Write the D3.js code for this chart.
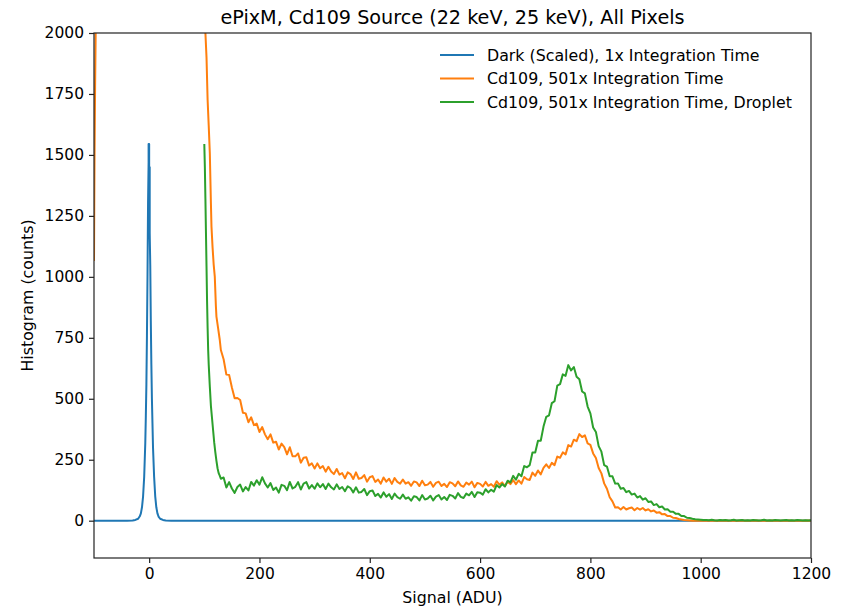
<!DOCTYPE html>
<html>
<head>
<meta charset="utf-8">
<script src="https://cdn.jsdelivr.net/npm/d3@7"></script>
<style>
  body { margin: 0; background: #fff; }
  text { font-family: "DejaVu Sans", sans-serif; fill: #000; }
</style>
</head>
<body>
<svg id="chart" width="848" height="607"></svg>
<script>
// Histogram data
const seriesNames = [
    "Dark (Scaled), 1x Integration Time",
    "Cd109, 501x Integration Time",
    "Cd109, 501x Integration Time, Droplet"
];
const seriesColors = ["#1f77b4", "#ff7f0e", "#2ca02c"];

// dark peak, [signal, counts]
const darkPoints = [
    [-100, 0], [-40, 0], [-30, 1], [-25, 3], [-20, 8], [-17, 18], [-15, 30], [-13, 55],
    [-11, 100], [-9, 180], [-7, 320], [-6, 430], [-5, 560], [-4, 760], [-3, 1000],
    [-2, 1300], [-1, 1470], [-1, 1545], [0, 1545], [0, 1440], [1, 1450], [1, 1180],
    [2, 1050], [3, 820], [4, 640], [5, 500], [6, 400], [7, 300], [9, 180], [11, 100],
    [13, 55], [15, 30], [17, 17], [20, 8], [25, 3], [30, 1], [40, 0], [1200, 0]
];

// steep parts at the start of the Cd109 curves, [signal, counts]
const cdHead = [
    [-100, 1065], [-99.5, 1300], [-99, 1500], [-98, 1780], [-97, 1990], [-96, 2300],
    [-94, 2800], [96, 2800], [100, 2300], [102, 2000], [104, 1900], [106, 1725],
    [108, 1620], [110, 1507], [112, 1300], [113, 1206], [115, 1120], [117, 1050],
    [119, 1001], [121, 880], [122, 837], [125, 790], [128, 742], [130, 700]
];
const dropletHead = [
    [100, 1545], [101, 1450], [102, 1320], [103, 1180], [104, 1042], [105, 900],
    [106, 790], [107, 700], [108, 640], [110, 550], [112, 470], [114, 420], [116, 370],
    [118, 320], [120, 280], [122, 245], [124, 215], [126, 195], [128, 185], [130, 172]
];

// regular bins after the head: first bin and bin width in ADU
const binStart = 135;
const binStep = 5;

const cdCounts = [
    662, 599, 598, 546, 502, 503, 495, 443, 440, 404, 424, 392, 398, 364, 384, 354,
    334, 354, 320, 324, 292, 316, 302, 272, 301, 264, 264, 276, 238, 258, 260, 226,
    235, 214, 235, 215, 224, 201, 221, 202, 191, 212, 189, 195, 174, 198, 191, 171,
    198, 172, 175, 187, 160, 178, 183, 159, 169, 152, 177, 160, 172, 151, 175, 159,
    152, 169, 152, 158, 143, 161, 157, 142, 164, 145, 148, 159, 139, 155, 160, 142,
    151, 138, 158, 153, 141, 161, 145, 139, 156, 148, 160, 137, 155, 151, 140, 159,
    143, 150, 139, 162, 148, 157, 142, 160, 150, 167, 150, 165, 152, 179, 170, 167,
    197, 184, 206, 190, 217, 231, 216, 237, 228, 263, 258, 280, 272, 310, 304, 332,
    326, 355, 343, 350, 317, 311, 276, 257, 216, 194, 153, 131, 96, 79, 54, 55,
    46, 56, 46, 51, 54, 43, 52, 45, 52, 42, 47, 38, 42, 33, 35, 26,
    27, 19, 19, 12, 11, 7, 5, 3, 2, 1, 0, 0, 1, 0, 0, 0,
    0, 1, 0, 0, 0, 0, 1, 0, 0, 0, 0, 0, 1, 0, 0, 0,
    0, 1, 0, 0, 0, 0, 0, 1, 0, 0, 0, 0, 0, 1, 0, 0,
    0, 0, 0, 0, 1, 0
];

const dropletCounts = [
    177, 136, 158, 132, 114, 138, 148, 120, 138, 124, 159, 144, 166, 148, 178, 153,
    136, 154, 126, 136, 115, 147, 143, 125, 159, 132, 139, 158, 128, 152, 158, 132,
    146, 131, 153, 137, 150, 130, 152, 137, 128, 149, 130, 138, 121, 141, 134, 116,
    137, 115, 118, 130, 105, 121, 124, 101, 110, 95, 116, 98, 109, 89, 111, 97,
    90, 107, 90, 96, 82, 100, 97, 83, 105, 87, 91, 102, 83, 99, 105, 87,
    97, 85, 106, 102, 91, 113, 98, 93, 111, 104, 118, 97, 117, 115, 107, 129,
    116, 127, 119, 146, 136, 150, 140, 164, 157, 184, 168, 192, 182, 224, 219, 228,
    280, 280, 328, 328, 386, 426, 432, 482, 490, 554, 560, 600, 594, 638, 616, 630,
    590, 580, 530, 522, 468, 440, 382, 364, 306, 283, 228, 222, 182, 182, 152, 153,
    131, 134, 117, 122, 107, 111, 95, 101, 86, 92, 77, 79, 64, 68, 55, 58,
    46, 47, 37, 37, 28, 28, 19, 19, 12, 11, 8, 6, 5, 4, 3, 3,
    2, 4, 2, 1, 3, 2, 3, 1, 2, 4, 1, 2, 3, 1, 2, 1,
    3, 2, 1, 2, 4, 1, 2, 1, 3, 2, 1, 2, 3, 1, 2, 1,
    3, 2, 1, 2, 1, 2
];

const xTicks = [0, 200, 400, 600, 800, 1000, 1200];
const yTicks = [0, 250, 500, 750, 1000, 1250, 1500, 1750, 2000];

function withBins(head, counts) {
    return head.concat(counts.map((c, i) => [binStart + i * binStep, c]));
}

const width = 848, height = 607;
const margin = {top: 33, right: 37, bottom: 49, left: 94};

let svg = d3.select("#chart");

let x = d3.scaleLinear().domain([-100, 1200]).range([margin.left, width - margin.right]);
let y = d3.scaleLinear().domain([-153, 2000]).range([height - margin.bottom, margin.top]);

svg.append("defs").append("clipPath")
    .attr("id", "plot-clip")
    .append("rect")
    .attr("x", margin.left)
    .attr("y", margin.top)
    .attr("width", width - margin.left - margin.right)
    .attr("height", height - margin.top - margin.bottom);

let line = d3.line().x(d => x(d[0])).y(d => y(d[1]));

let allSeries = [darkPoints, withBins(cdHead, cdCounts), withBins(dropletHead, dropletCounts)];

svg.append("g")
    .attr("clip-path", "url(#plot-clip)")
    .selectAll("path")
    .data(allSeries)
    .enter().append("path")
    .attr("fill", "none")
    .attr("stroke", (d, i) => seriesColors[i])
    .attr("stroke-width", 2)
    .attr("stroke-linejoin", "round")
    .attr("d", line);

// axes
let xAxis = svg.append("g")
    .attr("transform", `translate(0,${height - margin.bottom})`)
    .call(d3.axisBottom(x).tickValues(xTicks).tickSize(5).tickPadding(5).tickFormat(d3.format("d")));
let yAxis = svg.append("g")
    .attr("transform", `translate(${margin.left},0)`)
    .call(d3.axisLeft(y).tickValues(yTicks).tickSize(5).tickPadding(5).tickFormat(d3.format("d")));

[xAxis, yAxis].forEach(g => {
    g.select(".domain").remove();
    g.selectAll("line").attr("stroke", "#222").attr("stroke-width", 1.2);
    g.selectAll("text").attr("font-size", 15.5).attr("font-family", "DejaVu Sans, sans-serif").attr("fill", "#222");
});

// frame around the plot
svg.append("rect")
    .attr("x", margin.left)
    .attr("y", margin.top)
    .attr("width", width - margin.left - margin.right)
    .attr("height", height - margin.top - margin.bottom)
    .attr("fill", "none")
    .attr("stroke", "#222")
    .attr("stroke-width", 1.2);

// title and labels
svg.append("text")
    .attr("x", (margin.left + width - margin.right) / 2)
    .attr("y", 24)
    .attr("text-anchor", "middle")
    .attr("font-size", 19.2)
    .text("ePixM, Cd109 Source (22 keV, 25 keV), All Pixels");

svg.append("text")
    .attr("x", (margin.left + width - margin.right) / 2)
    .attr("y", 603)
    .attr("text-anchor", "middle")
    .attr("font-size", 15.8)
    .text("Signal (ADU)");

svg.append("text")
    .attr("transform", `translate(33,${(margin.top + height - margin.bottom) / 2}) rotate(-90)`)
    .attr("text-anchor", "middle")
    .attr("font-size", 15.8)
    .text("Histogram (counts)");

// legend
let legend = svg.append("g").selectAll("g")
    .data(seriesNames)
    .enter().append("g")
    .attr("transform", (d, i) => `translate(440,${55 + i * 23.5})`);

legend.append("line")
    .attr("x1", 0).attr("x2", 34)
    .attr("stroke", (d, i) => seriesColors[i])
    .attr("stroke-width", 2);

legend.append("text")
    .attr("x", 47)
    .attr("dy", "0.35em")
    .attr("font-size", 15.8)
    .text(d => d);
</script>
</body>
</html>
